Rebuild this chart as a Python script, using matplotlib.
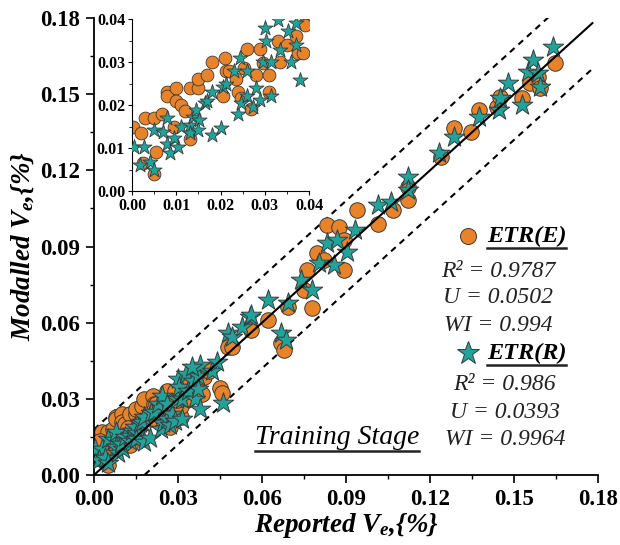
import numpy as np
import matplotlib
matplotlib.use("Agg")
import matplotlib.pyplot as plt
from matplotlib.lines import Line2D
from matplotlib.ticker import MultipleLocator, FormatStrFormatter

plt.rcParams['font.family'] = ['Liberation Serif', 'DejaVu Serif']
plt.rcParams['mathtext.fontset'] = 'custom'
plt.rcParams['mathtext.it'] = 'Liberation Serif:italic:bold'
plt.rcParams['mathtext.rm'] = 'Liberation Serif:italic:bold'

# ETR(E) - orange circles (reported, modelled)
e_x = [0.0002, 0.003, 0.005, 0.0068, 0.008, 0.008, 0.010, 0.010, 0.011, 0.013, 0.0149, 0.0149,
       0.017, 0.018, 0.021, 0.0213, 0.022, 0.0235, 0.024, 0.026, 0.0254, 0.028, 0.027, 0.031,
       0.031, 0.029, 0.0334, 0.033, 0.035, 0.037, 0.0375, 0.039, 0.0386, 0.012, 0.013, 0.0054,
       0.005, 0.002, 0.0024, 0.0096, 0.0205, 0.0247, 0.0296,
       0.0392, 0.041, 0.0451, 0.0456, 0.048, 0.0492, 0.0562, 0.0621, 0.0668, 0.068, 0.0692,
       0.0751, 0.0762, 0.078, 0.0798, 0.0821, 0.0833, 0.0874, 0.0892, 0.0892, 0.0939, 0.1015,
       0.1068, 0.1121, 0.1121, 0.1239, 0.1286, 0.1345, 0.1374, 0.1439, 0.1451, 0.1527, 0.1556,
       0.1586, 0.1592, 0.1645]
e_y = [0.015, 0.017, 0.017, 0.018, 0.023, 0.022, 0.024, 0.021, 0.020, 0.024, 0.024, 0.026,
       0.027, 0.030, 0.031, 0.028, 0.028, 0.026, 0.023, 0.033, 0.0286, 0.027, 0.019, 0.023,
       0.027, 0.033, 0.030, 0.035, 0.034, 0.036, 0.032, 0.039, 0.032, 0.0185, 0.012, 0.009,
       0.004, 0.0134, 0.0065, 0.015, 0.022, 0.0216, 0.0297,
       0.0387, 0.041, 0.0341, 0.0322, 0.0505, 0.0505, 0.0571, 0.061, 0.0519, 0.0492, 0.0663,
       0.0729, 0.0807, 0.0657, 0.0873, 0.0847, 0.0985, 0.0978, 0.0926, 0.0807, 0.1044, 0.099,
       0.1044, 0.1083, 0.1135, 0.1254, 0.1365, 0.1352, 0.1438, 0.1451, 0.149, 0.1484, 0.1543,
       0.1569, 0.1523, 0.1622]

# ETR(R) - teal stars
r_x = [0.0005, 0.0028, 0.0017, 0.004, 0.005, 0.005, 0.007, 0.008, 0.0078, 0.0085, 0.0103,
       0.0096, 0.011, 0.013, 0.013, 0.0137, 0.0145, 0.0152, 0.0149, 0.0164, 0.017, 0.018, 0.018,
       0.020, 0.0205, 0.0213, 0.023, 0.0243, 0.024, 0.0247, 0.026, 0.026, 0.0273, 0.028, 0.029,
       0.0296, 0.030, 0.0303, 0.0315, 0.0315, 0.033, 0.0334, 0.0352, 0.036, 0.037, 0.037, 0.038,
       0.038, 0.0351, 0.042, 0.044, 0.0462, 0.048, 0.0492, 0.0527, 0.0557, 0.0562, 0.0621,
       0.0668, 0.0686, 0.0692, 0.0739, 0.078, 0.0804, 0.0833, 0.0856, 0.0868, 0.0904, 0.0933,
       0.1015, 0.1062, 0.1121, 0.1121, 0.1233, 0.1286, 0.1374, 0.1445, 0.1451, 0.148, 0.1527,
       0.1551, 0.1568, 0.1586, 0.1592, 0.1639]
r_y = [0.0103, 0.0103, 0.006, 0.0068, 0.0049, 0.0142, 0.0138, 0.017, 0.011, 0.0088, 0.0103,
       0.0123, 0.015, 0.0154, 0.0134, 0.0173, 0.0189, 0.0165, 0.0142, 0.0204, 0.021, 0.023, 0.013,
       0.0146, 0.0243, 0.025, 0.028, 0.031, 0.018, 0.0204, 0.022, 0.028, 0.0196, 0.0239, 0.0212,
       0.030, 0.0379, 0.0348, 0.022, 0.030, 0.0398, 0.0329, 0.0371, 0.030, 0.039, 0.034, 0.0259,
       0.0433, 0.0427, 0.041, 0.0445, 0.0282, 0.0559, 0.0545, 0.0584, 0.0624, 0.063, 0.0689,
       0.0558, 0.0532, 0.0676, 0.0768, 0.0729, 0.0834, 0.0913, 0.0827, 0.0926, 0.088, 0.0965,
       0.1063, 0.1077, 0.1175, 0.1122, 0.1267, 0.1332, 0.1412, 0.1438, 0.1484, 0.1543, 0.1458,
       0.1589, 0.1635, 0.1583, 0.1529, 0.1687]

stats_e = ["R² = 0.9787", "U = 0.0502", "WI = 0.994"]
stats_r = ["R² = 0.986", "U = 0.0393", "WI = 0.9964"]
band = 0.018

c_e = '#E8832A'
c_r = '#1FA39A'
edge = '#3a3a3a'

fig = plt.figure(figsize=(6.2, 5.45), dpi=100)
ax = fig.add_axes([0.1516, 0.1284, 0.8129, 0.8385])

xl = np.array([0.0, 0.178])
ax.plot(xl, xl, color='black', lw=1.5, zorder=4)
ax.plot(xl, xl + band, color='black', lw=1.5, ls=(0, (3, 2.5)), zorder=1)
ax.plot(xl, xl - band, color='black', lw=1.5, ls=(0, (3, 2.5)), zorder=1)

ax.scatter(e_x, e_y, s=125, marker='o', facecolor=c_e, edgecolor=edge, lw=0.7, zorder=2)
ax.scatter(r_x, r_y, s=240, marker='*', facecolor=c_r, edgecolor=edge, lw=0.7, zorder=3)

ax.set_xlim(0, 0.18)
ax.set_ylim(0, 0.18)
for s in ['top', 'right']:
    ax.spines[s].set_visible(False)
for s in ['left', 'bottom']:
    ax.spines[s].set_linewidth(1.3)
ax.xaxis.set_major_locator(MultipleLocator(0.03))
ax.yaxis.set_major_locator(MultipleLocator(0.03))
ax.xaxis.set_minor_locator(MultipleLocator(0.015))
ax.yaxis.set_minor_locator(MultipleLocator(0.015))
ax.xaxis.set_major_formatter(FormatStrFormatter('%.2f'))
ax.yaxis.set_major_formatter(FormatStrFormatter('%.2f'))
ax.tick_params(which='major', length=6, width=1.2, labelsize=16.5, pad=4)
ax.tick_params(which='minor', length=3, width=1.0)
for lab in ax.get_xticklabels() + ax.get_yticklabels():
    lab.set_fontweight('bold')

ax.set_xlabel('Reported $V_e$,{%}', fontsize=19.5, fontweight='bold', style='italic', labelpad=1)
ax.set_ylabel('Modalled $V_e$,{%}', fontsize=19.5, fontweight='bold', style='italic', labelpad=3)

# legend-like annotation block
ax.plot([0.742], [0.523], marker='o', ms=11.5, mfc=c_e, mec=edge, mew=0.7,
        transform=ax.transAxes, clip_on=False)
ax.plot([0.742], [0.267], marker='*', ms=17, mfc=c_r, mec=edge, mew=0.7,
        transform=ax.transAxes, clip_on=False)

under = []
under.append(ax.text(0.858, 0.523, 'ETR(E)', transform=ax.transAxes, ha='center', va='center',
                     fontsize=17.5, fontweight='bold', style='italic'))
under.append(ax.text(0.858, 0.267, 'ETR(R)', transform=ax.transAxes, ha='center', va='center',
                     fontsize=17.5, fontweight='bold', style='italic'))
under.append(ax.text(0.482, 0.082, 'Training Stage', transform=ax.transAxes, ha='center',
                     va='center', fontsize=20, style='italic'))

for txt, yy in zip(stats_e, [0.446, 0.389, 0.328]):
    ax.text(0.802, yy, txt, transform=ax.transAxes, ha='center', va='center', fontsize=17,
            style='italic', color='#222222')
for txt, yy in zip(stats_r, [0.197, 0.136, 0.077]):
    ax.text(0.815, yy, txt, transform=ax.transAxes, ha='center', va='center', fontsize=17,
            style='italic', color='#222222')

# inset
axi = fig.add_axes([0.2129, 0.6495, 0.2855, 0.3156])
axi.scatter(e_x, e_y, s=85, marker='o', facecolor=c_e, edgecolor=edge, lw=0.6, zorder=2)
axi.scatter(r_x, r_y, s=130, marker='*', facecolor=c_r, edgecolor=edge, lw=0.6, zorder=3)
axi.set_xlim(0, 0.04)
axi.set_ylim(0, 0.04)
for s in ['top', 'right']:
    axi.spines[s].set_visible(False)
axi.xaxis.set_major_locator(MultipleLocator(0.01))
axi.yaxis.set_major_locator(MultipleLocator(0.01))
axi.xaxis.set_minor_locator(MultipleLocator(0.005))
axi.yaxis.set_minor_locator(MultipleLocator(0.005))
axi.xaxis.set_major_formatter(FormatStrFormatter('%.2f'))
axi.yaxis.set_major_formatter(FormatStrFormatter('%.2f'))
axi.tick_params(which='major', length=3, width=0.8, labelsize=11.5, pad=2)
axi.tick_params(which='minor', length=2, width=0.6)
for lab in axi.get_xticklabels() + axi.get_yticklabels():
    lab.set_fontweight('bold')

# underline the headings
fig.canvas.draw()
inv = ax.transAxes.inverted()
for t in under:
    bb = t.get_window_extent()
    (x0, y0), (x1, y1) = inv.transform([[bb.x0, bb.y0], [bb.x1, bb.y0]])
    ax.add_line(Line2D([x0, x1], [y0 - 0.003, y1 - 0.003], transform=ax.transAxes,
                       color='#222222', lw=1.8, clip_on=False))

fig.savefig('out.png', dpi=100)
